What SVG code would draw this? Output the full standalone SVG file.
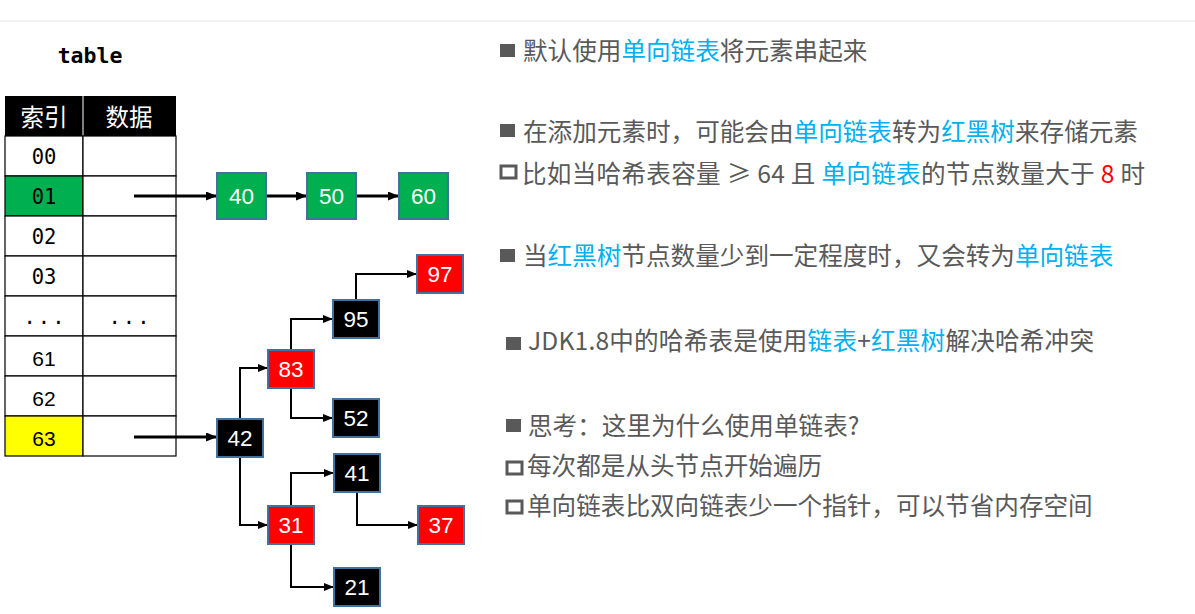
<svg xmlns="http://www.w3.org/2000/svg" width="1195" height="614" viewBox="0 0 1195 614">
<style>
.cell{fill:#fff;stroke:#000;stroke-width:1.2}
.mono{font-family:"DejaVu Sans Mono","Liberation Mono",monospace;font-size:20.5px;fill:#000;text-anchor:middle}
.sans{font-family:"Liberation Sans",Arial,sans-serif;font-size:21px;fill:#000;text-anchor:middle}
.hdr{font-family:"Noto Sans CJK SC",sans-serif;font-size:23.5px;fill:#fff;text-anchor:middle}
.nb{stroke:#41719C;stroke-width:2}
.g{fill:#00B050}.r{fill:#FF0000}.k{fill:#000}
.nt{font-family:"Liberation Sans",Arial,sans-serif;font-size:22.5px;fill:#fff;text-anchor:middle}
.txt{font-family:"Noto Sans CJK SC",sans-serif;font-size:24.6px;fill:#595959}
.bl{fill:#00B0F0}.rd{fill:#FF0000}
.bul{fill:#595959}
.hol{fill:none;stroke:#595959;stroke-width:3}
.thick{fill:none;stroke:#000;stroke-width:3}
.thin{fill:none;stroke:#000;stroke-width:2}
</style>
<defs>
<marker id="ah" markerUnits="userSpaceOnUse" markerWidth="11" markerHeight="9" refX="10" refY="4.5" orient="auto"><path d="M0,0 L11,4.5 L0,9 z" fill="#000"/></marker>
<marker id="ahs" markerUnits="userSpaceOnUse" markerWidth="10" markerHeight="8" refX="9" refY="4" orient="auto"><path d="M0,0 L10,4 L0,8 z" fill="#000"/></marker>
</defs>
<rect width="1195" height="614" fill="#fff"/>
<line x1="0" y1="21" x2="1195" y2="21" stroke="#f2f2f2" stroke-width="2"/>
<polyline points="11,262 7,268 11,274" fill="none" stroke="#999" stroke-width="1"/>

<g id="table">
<text x="90" y="63" font-family="DejaVu Sans Mono,Liberation Mono,monospace" font-size="21.5" font-weight="bold" text-anchor="middle" fill="#000">table</text>
<rect x="5" y="96" width="171" height="40" fill="#000"/>
<line x1="83" y1="96" x2="83" y2="136" stroke="#fff" stroke-width="1"/>
<text class="hdr" x="44" y="126">索引</text>
<text class="hdr" x="129" y="126">数据</text>
<rect class="cell" x="5" y="136" width="78" height="40"/><rect class="cell" x="83" y="136" width="93" height="40"/>
<rect class="cell" x="5" y="176" width="78" height="40" style="fill:#00B050"/><rect class="cell" x="83" y="176" width="93" height="40"/>
<rect class="cell" x="5" y="216" width="78" height="40"/><rect class="cell" x="83" y="216" width="93" height="40"/>
<rect class="cell" x="5" y="256" width="78" height="40"/><rect class="cell" x="83" y="256" width="93" height="40"/>
<rect class="cell" x="5" y="296" width="78" height="40"/><rect class="cell" x="83" y="296" width="93" height="40"/>
<rect class="cell" x="5" y="336" width="78" height="40"/><rect class="cell" x="83" y="336" width="93" height="40"/>
<rect class="cell" x="5" y="376" width="78" height="40"/><rect class="cell" x="83" y="376" width="93" height="40"/>
<rect class="cell" x="5" y="416" width="78" height="40" style="fill:#FFFF00"/><rect class="cell" x="83" y="416" width="93" height="40"/>
<text class="mono" x="44" y="164">00</text>
<text class="mono" x="44" y="204">01</text>
<text class="mono" x="44" y="244">02</text>
<text class="mono" x="44" y="284">03</text>
<text class="mono" x="45" y="324" letter-spacing="2">...</text>
<text class="mono" x="130" y="324" letter-spacing="2">...</text>
<text class="sans" x="44" y="366">61</text>
<text class="sans" x="44" y="406">62</text>
<text class="sans" x="44" y="446">63</text>
</g>

<g id="connectors">
<line class="thick" x1="134" y1="196" x2="216" y2="196" marker-end="url(#ah)"/>
<line class="thick" x1="267" y1="196" x2="306" y2="196" marker-end="url(#ah)"/>
<line class="thick" x1="357" y1="196" x2="398" y2="196" marker-end="url(#ah)"/>
<line class="thick" x1="134" y1="437" x2="216" y2="437" marker-end="url(#ah)"/>
<path class="thin" d="M240,418 V368 H267" marker-end="url(#ahs)"/>
<path class="thin" d="M291,349 V319 H332" marker-end="url(#ahs)"/>
<path class="thin" d="M356,299 V274 H416" marker-end="url(#ahs)"/>
<path class="thin" d="M291,389 V418 H332" marker-end="url(#ahs)"/>
<path class="thin" d="M240,458 V525 H267" marker-end="url(#ahs)"/>
<path class="thin" d="M291,505 V473 H333" marker-end="url(#ahs)"/>
<path class="thin" d="M357,493 V525 H417" marker-end="url(#ahs)"/>
<path class="thin" d="M291,545 V587 H333" marker-end="url(#ahs)"/>
</g>

<g id="n40"><rect class="nb g" x="217" y="173" width="49" height="46"/><text class="nt" x="241.5" y="204">40</text></g>
<g id="n50"><rect class="nb g" x="307" y="173" width="49" height="46"/><text class="nt" x="331.5" y="204">50</text></g>
<g id="n60"><rect class="nb g" x="399" y="173" width="49" height="46"/><text class="nt" x="423.5" y="204">60</text></g>

<g id="n97"><rect class="nb r" x="417" y="255" width="46" height="38"/><text class="nt" x="440" y="282">97</text></g>
<g id="n95"><rect class="nb k" x="333" y="300" width="46" height="38"/><text class="nt" x="356" y="327">95</text></g>
<g id="n83"><rect class="nb r" x="268" y="350" width="46" height="38"/><text class="nt" x="291" y="377">83</text></g>
<g id="n52"><rect class="nb k" x="333" y="399" width="46" height="38"/><text class="nt" x="356" y="426">52</text></g>
<g id="n42"><rect class="nb k" x="217" y="419" width="46" height="38"/><text class="nt" x="240" y="446">42</text></g>
<g id="n41"><rect class="nb k" x="334" y="454" width="46" height="38"/><text class="nt" x="357" y="481">41</text></g>
<g id="n31"><rect class="nb r" x="268" y="506" width="46" height="38"/><text class="nt" x="291" y="533">31</text></g>
<g id="n37"><rect class="nb r" x="418" y="506" width="46" height="38"/><text class="nt" x="441" y="533">37</text></g>
<g id="n21"><rect class="nb k" x="334" y="568" width="46" height="38"/><text class="nt" x="357" y="595">21</text></g>

<g id="notes">
<rect class="bul" x="500" y="44" width="15" height="13"/>
<text class="txt" x="523" y="60">默认使用<tspan class="bl">单向链表</tspan>将元素串起来</text>
<rect class="bul" x="500" y="124" width="15" height="13"/>
<text class="txt" x="523" y="141">在添加元素时，可能会由<tspan class="bl">单向链表</tspan>转为<tspan class="bl">红黑树</tspan>来存储元素</text>
<rect class="hol" x="501" y="166" width="15" height="12"/>
<text class="txt" x="522" y="183" textLength="623" lengthAdjust="spacing">比如当哈希表容量 ≥ 64 且 <tspan class="bl">单向链表</tspan>的节点数量大于 <tspan class="rd">8</tspan> 时</text>
<rect class="bul" x="500" y="249" width="15" height="13"/>
<text class="txt" x="523" y="265">当<tspan class="bl">红黑树</tspan>节点数量少到一定程度时，又会转为<tspan class="bl">单向链表</tspan></text>
<rect class="bul" x="506" y="337" width="15" height="13"/>
<text class="txt" x="528" y="350" textLength="566" lengthAdjust="spacing">JDK1.8中的哈希表是使用<tspan class="bl">链表</tspan>+<tspan class="bl">红黑树</tspan>解决哈希冲突</text>
<rect class="bul" x="506" y="419" width="15" height="13"/>
<text class="txt" x="528" y="435">思考：这里为什么使用单链表?</text>
<rect class="hol" x="507" y="462" width="15" height="12"/>
<text class="txt" x="527" y="475">每次都是从头节点开始遍历</text>
<rect class="hol" x="507" y="501" width="15" height="12"/>
<text class="txt" x="527" y="515">单向链表比双向链表少一个指针，可以节省内存空间</text>
</g>
</svg>
